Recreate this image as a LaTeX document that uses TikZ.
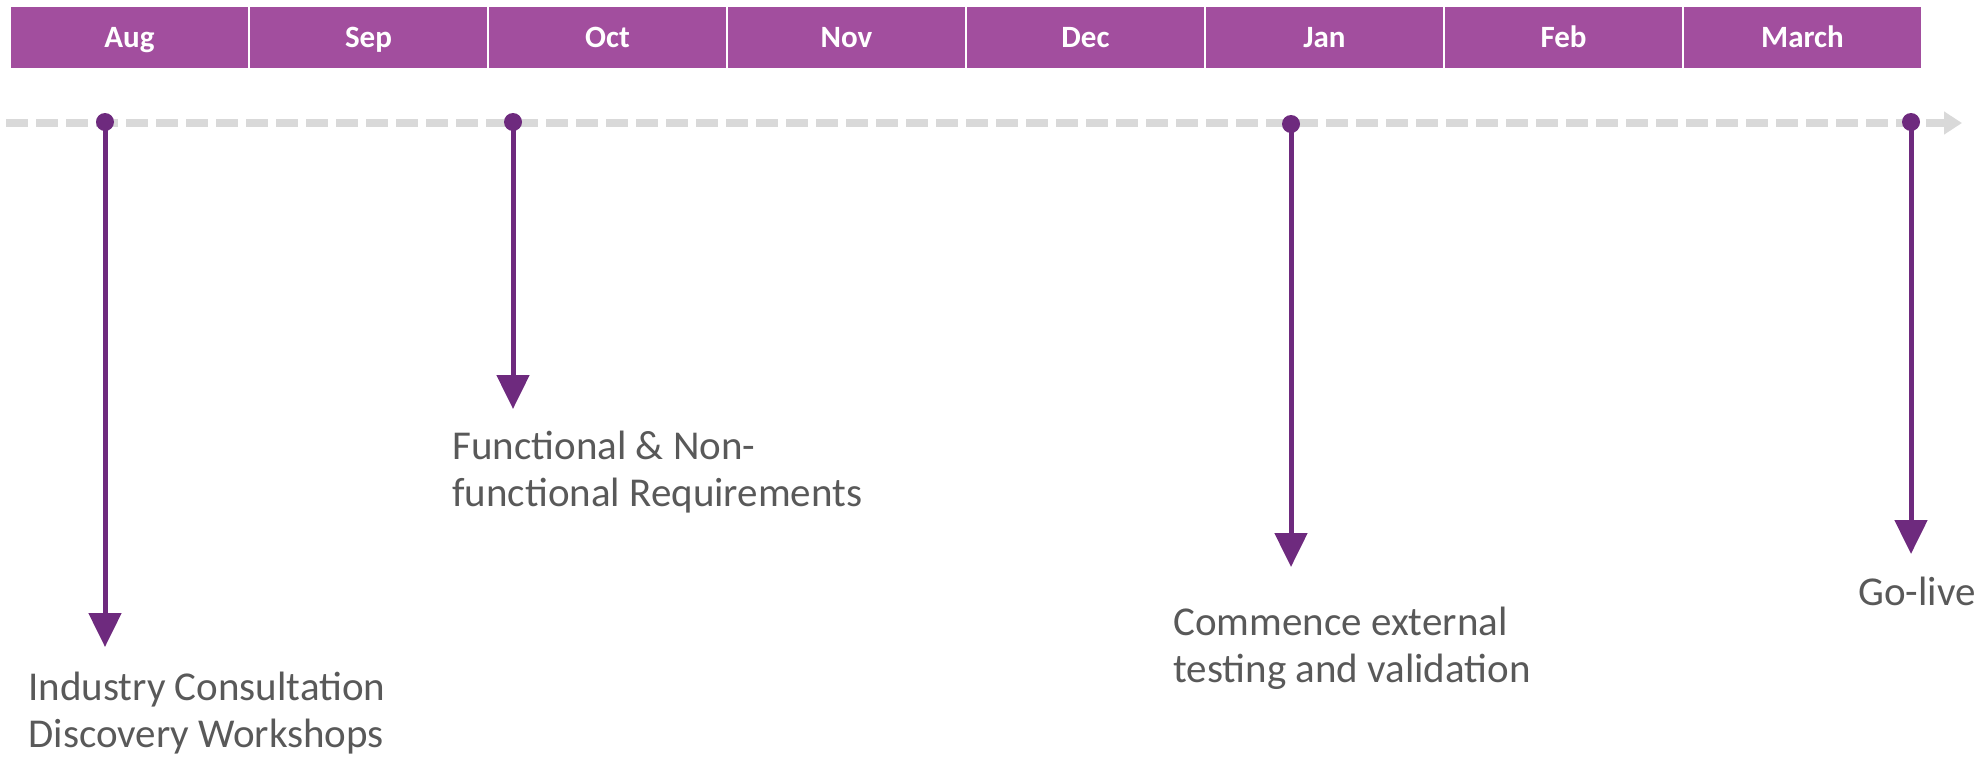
\documentclass[tikz,border=0pt]{standalone}
\usepackage{fontspec}
\setmainfont{Carlito}
\usetikzlibrary{arrows.meta,positioning}
\definecolor{barpurple}{RGB}{162,78,158}
\definecolor{darkpurple}{RGB}{110,42,126}
\definecolor{dashgray}{RGB}{217,217,217}
\definecolor{textgray}{RGB}{89,89,89}

\begin{document}
\begin{tikzpicture}[x=0.5pt,y=-0.5pt,node distance=0pt,>={Triangle[length=17pt,width=16pt]}]
  \tikzstyle{month}=[rectangle,fill=barpurple,draw=white,line width=0.8pt,
              minimum width=119.5pt,minimum height=31.5pt,inner sep=0pt,outer sep=0pt,
              text height=11pt,text depth=1pt,
              text=white,font=\fontsize{15.5}{18}\selectfont\bfseries]
  \tikzstyle{event}=[circle,fill=darkpurple,minimum size=9pt,inner sep=0pt]
  \tikzstyle{milestone}=[->,darkpurple,line width=2.5pt]
  \tikzstyle{caption}=[anchor=north west,align=left,inner sep=0pt,text=textgray,
              font=\fontsize{20.5}{23.5}\selectfont]
  \useasboundingbox (0,0) rectangle (1982,756);
    % month header
    \node [month] (aug) at (129.5,37.5) {Aug};
    \node [month] (sep) [right=of aug] {Sep};
    \node [month] (oct) [right=of sep] {Oct};
    \node [month] (nov) [right=of oct] {Nov};
    \node [month] (dec) [right=of nov] {Dec};
    \node [month] (jan) [right=of dec] {Jan};
    \node [month] (feb) [right=of jan] {Feb};
    \node [month] (mar) [right=of feb] {March};
    % time axis
    \coordinate (axisstart) at (6,123);
    \coordinate (axisend) at (1962,123);
    \draw [dashgray,line width=4pt,dash pattern=on 11pt off 4pt,
           -{Triangle[length=9pt,width=11pt]}] (axisstart) -- (axisend);
    % events
    \node [event] (e1) at (105,122) {};
    \node [event] (e2) at (513,122) {};
    \node [event] (e3) at (1291,124) {};
    \node [event] (e4) at (1911,122) {};
    \coordinate (t1) at (105,647);
    \coordinate (t2) at (513,409);
    \coordinate (t3) at (1291,567);
    \coordinate (t4) at (1911,554);
    \draw [milestone] (e1.center) -- (t1);
    \draw [milestone] (e2.center) -- (t2);
    \draw [milestone] (e3.center) -- (t3);
    \draw [milestone] (e4.center) -- (t4);
    % captions
    \node [caption] (c1) at (28,672) {Industry Consultation\\Discovery Workshops};
    \node [caption] (c2) at (452,431) {Functional \& Non-\\functional Requirements};
    \node [caption] (c3) at (1173,607) {Commence external\\testing and validation};
    \node [caption] (c4) at (1858,577) {Go-live};
\end{tikzpicture}
\end{document}
